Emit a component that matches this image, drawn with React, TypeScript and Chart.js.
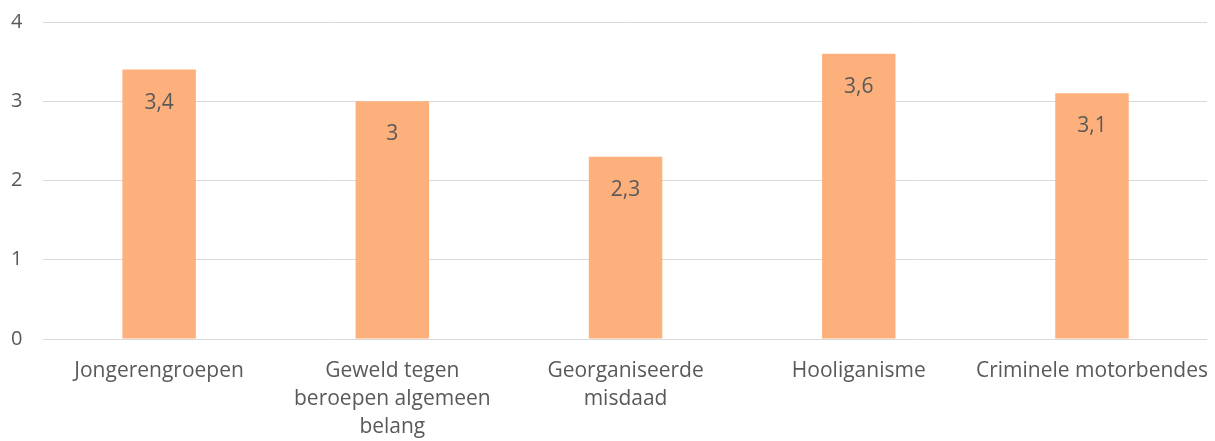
import React, { useEffect, useRef } from "react";
import { Chart, registerables } from "chart.js";

Chart.register(...registerables);

const categories: string[][] = [
  ["Jongerengroepen"],
  ["Geweld tegen", "beroepen algemeen", "belang"],
  ["Georganiseerde", "misdaad"],
  ["Hooliganisme"],
  ["Criminele motorbendes"],
];
const values: number[] = [3.4, 3, 2.3, 3.6, 3.1];
const valueLabels: string[] = ["3,4", "3", "2,3", "3,6", "3,1"];

const FONT = "'Open Sans', 'Liberation Sans', sans-serif";
const TEXT = "#595959";

const labelPlugin = {
  id: "barLabels",
  afterDatasetsDraw(chart: any) {
    const ctx = chart.ctx;
    const meta = chart.getDatasetMeta(0);
    ctx.save();
    ctx.font = `21px ${FONT}`;
    ctx.fillStyle = TEXT;
    ctx.textAlign = "center";
    ctx.textBaseline = "middle";
    meta.data.forEach((bar: any, i: number) => {
      ctx.fillText(valueLabels[i], bar.x, bar.y + 33);
    });
    ctx.restore();
  },
};

export default function App() {
  const ref = useRef<HTMLCanvasElement | null>(null);
  useEffect(() => {
    if (!ref.current) return;
    const chart = new Chart(ref.current, {
      type: "bar",
      data: {
        labels: categories,
        datasets: [
          {
            data: values,
            backgroundColor: "#FDAF7C",
            barPercentage: 0.63,
            categoryPercentage: 0.5,
          },
        ],
      },
      options: {
        responsive: true,
        maintainAspectRatio: false,
        animation: false,
        layout: { padding: 0 },
        plugins: { legend: { display: false }, tooltip: { enabled: false } },
        scales: {
          x: {
            grid: { display: false },
            border: { display: false },
            ticks: {
              color: TEXT,
              font: { family: FONT, size: 21, lineHeight: 1.333 },
              maxRotation: 0,
              autoSkip: false,
              padding: 10,
            },
            afterFit(scale: any) {
              scale.height = 102;
            },
          },
          y: {
            min: 0,
            max: 4,
            ticks: {
              stepSize: 1,
              color: TEXT,
              font: { family: FONT, size: 20 },
              padding: 20,
            },
            grid: { color: "#d9d9d9", drawTicks: false, lineWidth: 1 },
            border: { display: false },
            afterFit(scale: any) {
              scale.width = 34.5;
            },
          },
        },
      },
      plugins: [labelPlugin],
    });
    return () => chart.destroy();
  }, []);
  return (
    <div style={{ width: 1199, overflow: "hidden" }}>
      <div style={{ width: 1210, height: 451, marginTop: -18, position: "relative" }}>
        <canvas ref={ref} />
      </div>
    </div>
  );
}
